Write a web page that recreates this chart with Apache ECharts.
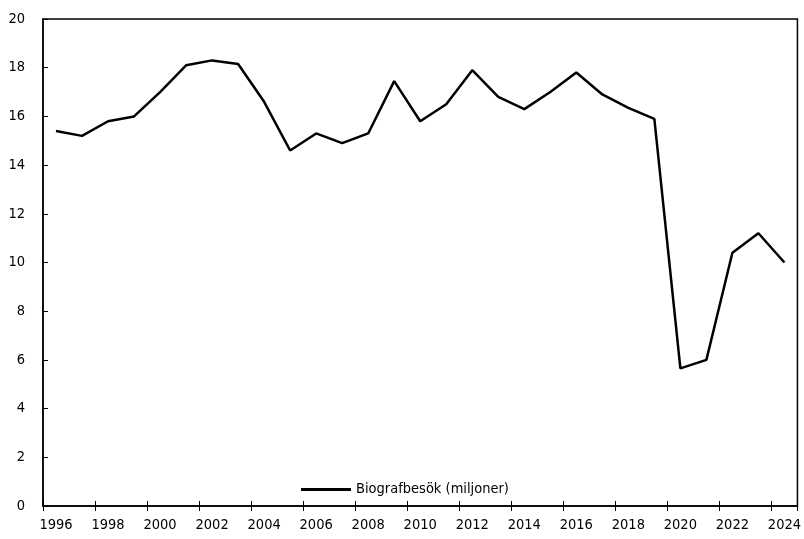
<!DOCTYPE html>
<html><head><meta charset="utf-8">
<script src="https://cdn.jsdelivr.net/npm/echarts@6/dist/echarts.min.js"></script>
<style>html,body{margin:0;padding:0;background:#fff}#c{width:804px;height:539px}</style>
</head><body><div id="c"></div>
<script>
var years = ['1996','1997','1998','1999','2000','2001','2002','2003','2004','2005','2006','2007','2008','2009','2010','2011','2012','2013','2014','2015','2016','2017','2018','2019','2020','2021','2022','2023','2024'];
var visits = [15.4,15.2,15.8,16.0,17.0,18.1,18.3,18.15,16.6,14.6,15.3,14.9,15.3,17.45,15.8,16.5,17.9,16.8,16.3,17.0,17.8,16.9,16.35,15.9,5.65,6.0,10.4,11.2,10.0];
var seriesName = 'Biografbesök (miljoner)';
var FONT = '"DejaVu Sans Condensed","DejaVu Sans",sans-serif';
var chart = echarts.init(document.getElementById('c'));
chart.setOption({
  animation:false,
  grid:{left:43,right:5,top:19,bottom:33,show:true,borderColor:'#000',borderWidth:1.5},
  legend:{data:[seriesName],left:296,top:477,itemWidth:50,itemHeight:3,itemGap:6,icon:'rect',
    textStyle:{fontFamily:FONT,fontSize:14.5,color:'#000'}},
  xAxis:[{type:'category',data:years,boundaryGap:true,
    axisLine:{lineStyle:{color:'#000',width:1.5}},
    axisTick:{show:true,length:5,lineStyle:{color:'#000',width:1}},
    axisLabel:{interval:1,fontFamily:FONT,fontSize:14.5,color:'#000',margin:12},
    splitLine:{show:false}},
   {type:'category',data:years,boundaryGap:true,position:'bottom',gridIndex:0,
    axisLine:{show:false},axisTick:{show:true,inside:true,length:5,lineStyle:{color:'#000',width:1}},
    axisLabel:{show:false},splitLine:{show:false}}],
  yAxis:{type:'value',min:0,max:20,interval:2,
    axisLine:{show:true,lineStyle:{color:'#000',width:1.5}},
    axisTick:{show:true,inside:true,length:5,lineStyle:{color:'#000'}},
    axisLabel:{fontFamily:FONT,fontSize:14.5,color:'#000',margin:18},
    splitLine:{show:false}},
  series:[{name:seriesName,type:'line',data:visits,symbol:'none',
    lineStyle:{color:'#000',width:2.5},itemStyle:{color:'#000'}}]
});
</script></body></html>
